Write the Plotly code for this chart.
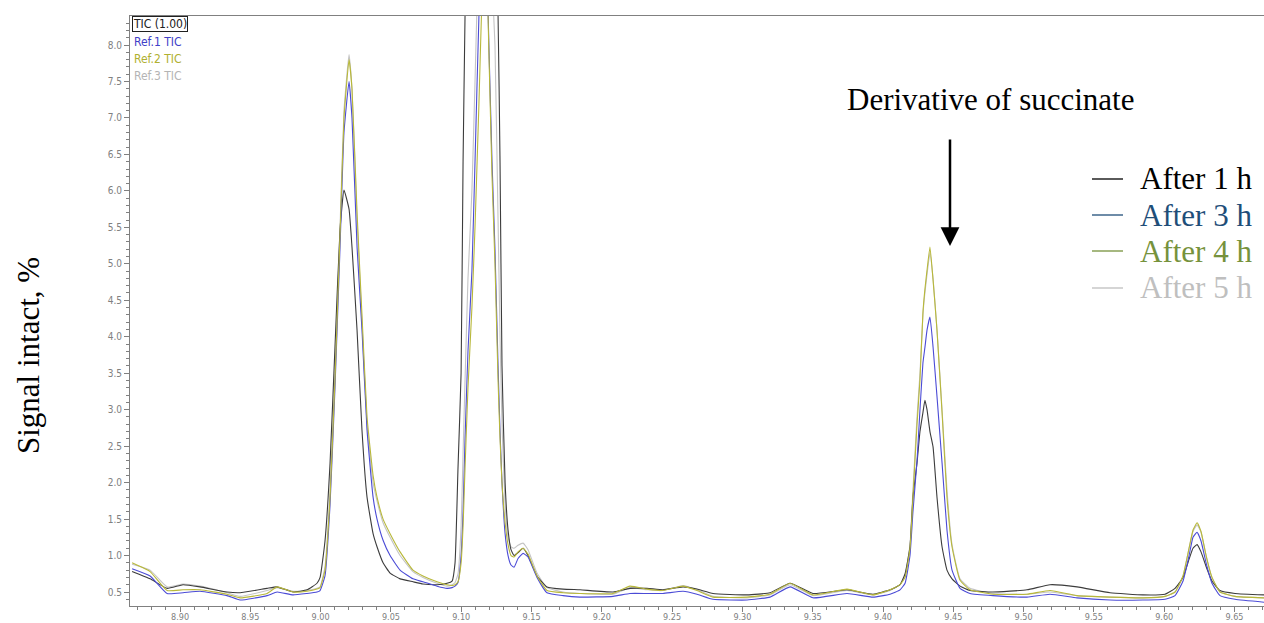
import plotly.graph_objects as go

# Retention time (min)
time_min = [8.8659, 8.8787, 8.8908, 8.9021, 8.9142, 8.9334, 8.9427, 8.9619, 8.9690, 8.9804,
            8.9903, 8.9974, 8.9996, 9.0031, 9.0067, 9.0102, 9.0138, 9.0166, 9.0202, 9.0223,
            9.0259, 9.0294, 9.0330, 9.0373, 9.0401, 9.0444, 9.0494, 9.0565, 9.0657, 9.0728,
            9.0828, 9.0899, 9.0935, 9.0956, 9.0977, 9.0999, 9.1013, 9.1027, 9.1048, 9.1076,
            9.1098, 9.1126, 9.1155, 9.1176, 9.1198, 9.1219, 9.1240, 9.1262, 9.1276, 9.1290,
            9.1312, 9.1333, 9.1354, 9.1376, 9.1404, 9.1440, 9.1475, 9.1539, 9.1610, 9.1724,
            9.1845, 9.2080, 9.2200, 9.2322, 9.2435, 9.2578, 9.2677, 9.2791, 9.3033, 9.3196,
            9.3339, 9.3502, 9.3744, 9.3929, 9.4050, 9.4121, 9.4157, 9.4192, 9.4213, 9.4242,
            9.4263, 9.4284, 9.4298, 9.4313, 9.4334, 9.4356, 9.4384, 9.4420, 9.4455, 9.4491,
            9.4548, 9.4619, 9.4782, 9.5024, 9.5188, 9.5380, 9.5615, 9.5849, 9.6006, 9.6077,
            9.6134, 9.6177, 9.6205, 9.6234, 9.6262, 9.6298, 9.6340, 9.6397, 9.6504, 9.6710]

# TIC, after 1 h
tic_1h = [0.78, 0.68, 0.55, 0.60, 0.57, 0.50, 0.49, 0.55, 0.57, 0.50,
          0.53, 0.62, 0.70, 1.20, 2.27, 3.86, 5.47, 6.01, 5.75, 5.23,
          4.09, 2.72, 1.80, 1.30, 1.12, 0.90, 0.76, 0.68, 0.64, 0.61,
          0.60, 0.62, 0.65, 0.90, 2.20, 3.50, 6.40, 8.40, 10.8, 12.8,
          13.8, 14.3, 14.4, 14.0, 13.0, 11.5, 9.80, 8.40, 6.40, 3.60,
          2.00, 1.35, 1.08, 1.00, 1.04, 1.10, 1.00, 0.72, 0.57, 0.54,
          0.53, 0.50, 0.55, 0.55, 0.53, 0.57, 0.54, 0.48, 0.46, 0.49,
          0.62, 0.48, 0.53, 0.47, 0.53, 0.60, 0.75, 1.12, 1.80, 2.27,
          2.70, 2.96, 3.13, 3.00, 2.70, 2.49, 1.80, 1.12, 0.80, 0.68,
          0.58, 0.52, 0.50, 0.53, 0.60, 0.57, 0.49, 0.46, 0.47, 0.55,
          0.70, 0.95, 1.10, 1.15, 1.05, 0.85, 0.65, 0.52, 0.48, 0.46]

# Ref.1 TIC, after 3 h
ref1_3h = [0.82, 0.72, 0.48, 0.49, 0.51, 0.45, 0.39, 0.45, 0.50, 0.46,
           0.48, 0.50, 0.52, 0.72, 1.70, 3.30, 5.23, 6.80, 7.50, 7.00,
           5.23, 4.10, 2.72, 1.80, 1.50, 1.21, 1.00, 0.80, 0.68, 0.64,
           0.58, 0.55, 0.56, 0.58, 0.63, 1.00, 1.60, 2.60, 3.80, 4.90,
           6.40, 8.40, 9.60, 9.40, 7.90, 6.40, 5.20, 3.60, 2.70, 2.00,
           1.30, 1.00, 0.87, 0.84, 0.96, 1.03, 0.98, 0.70, 0.49, 0.45,
           0.43, 0.44, 0.48, 0.48, 0.48, 0.51, 0.47, 0.40, 0.39, 0.43,
           0.57, 0.42, 0.48, 0.43, 0.47, 0.53, 0.62, 1.00, 1.60, 2.30,
           3.00, 3.64, 3.85, 4.09, 4.27, 3.86, 3.18, 2.27, 1.35, 0.80,
           0.55, 0.48, 0.45, 0.43, 0.47, 0.42, 0.39, 0.39, 0.40, 0.45,
           0.65, 1.00, 1.25, 1.32, 1.20, 0.90, 0.62, 0.45, 0.40, 0.36]

# Ref.2 TIC, after 4 h
ref2_4h = [0.90, 0.78, 0.52, 0.53, 0.53, 0.47, 0.42, 0.48, 0.57, 0.50,
           0.51, 0.54, 0.56, 0.80, 1.80, 3.40, 5.40, 7.00, 7.80, 7.40,
           5.70, 4.30, 2.90, 2.10, 1.80, 1.50, 1.30, 1.05, 0.80, 0.72,
           0.64, 0.60, 0.59, 0.60, 0.64, 0.90, 1.40, 2.20, 3.30, 4.40,
           5.50, 7.20, 9.00, 9.30, 7.80, 6.20, 5.00, 3.40, 2.60, 2.00,
           1.45, 1.15, 1.00, 0.98, 1.05, 1.10, 1.02, 0.72, 0.52, 0.49,
           0.48, 0.48, 0.58, 0.54, 0.52, 0.58, 0.52, 0.43, 0.43, 0.47,
           0.62, 0.46, 0.54, 0.46, 0.53, 0.60, 0.70, 1.10, 1.80, 2.80,
           3.41, 4.33, 4.65, 4.91, 5.23, 4.78, 4.09, 2.96, 1.80, 1.12,
           0.66, 0.53, 0.47, 0.47, 0.52, 0.45, 0.43, 0.42, 0.44, 0.50,
           0.72, 1.10, 1.35, 1.45, 1.33, 1.00, 0.70, 0.50, 0.44, 0.42]

# Ref.3 TIC, after 5 h
ref3_5h = [0.88, 0.80, 0.57, 0.61, 0.58, 0.49, 0.44, 0.52, 0.56, 0.51,
           0.52, 0.55, 0.57, 0.85, 1.90, 3.50, 5.50, 7.10, 7.87, 7.40,
           5.60, 4.20, 2.80, 2.00, 1.75, 1.45, 1.25, 1.00, 0.78, 0.70,
           0.62, 0.58, 0.60, 0.63, 0.75, 1.40, 2.40, 3.40, 4.80, 6.00,
           7.50, 9.50, 10.8, 10.6, 9.80, 8.90, 8.00, 5.60, 4.00, 2.80,
           1.70, 1.25, 1.12, 1.10, 1.14, 1.17, 1.08, 0.76, 0.56, 0.50,
           0.48, 0.47, 0.56, 0.53, 0.52, 0.59, 0.53, 0.44, 0.42, 0.46,
           0.60, 0.45, 0.52, 0.46, 0.52, 0.60, 0.72, 1.15, 1.90, 2.90,
           3.50, 4.30, 4.60, 4.85, 5.15, 4.80, 4.10, 3.00, 1.90, 1.15,
           0.68, 0.55, 0.48, 0.47, 0.50, 0.45, 0.43, 0.42, 0.44, 0.50,
           0.72, 1.10, 1.33, 1.42, 1.32, 1.00, 0.70, 0.50, 0.44, 0.42]

series_names = ["TIC (1.00)", "Ref.1 TIC", "Ref.2 TIC", "Ref.3 TIC"]
legend_labels = ["After 1 h", "After 3 h", "After 4 h", "After 5 h"]
y_tick_values = [0.5, 1.0, 1.5, 2.0, 2.5, 3.0, 3.5, 4.0, 4.5, 5.0, 5.5, 6.0, 6.5, 7.0, 7.5, 8.0]
x_tick_values = [8.90, 8.95, 9.00, 9.05, 9.10, 9.15, 9.20, 9.25, 9.30, 9.35, 9.40, 9.45, 9.50, 9.55, 9.60, 9.65]

W, H = 1264, 623
L, R, T, B = 130, 1264, 16, 606


def px(x):
    return (x - L) / (R - L)


def py(y):
    return (B - y) / (B - T)


trace_colors = ["#3c3c3c", "#4b4bd6", "#b8b83a", "#c4c4c4"]
legend_line_colors = ["#000000", "#1f4e79", "#76923c", "#bfbfbf"]
legend_text_colors = ["#000000", "#1f4e79", "#76923c", "#bfbfbf"]
label_colors = ["#202020", "#4040c8", "#b0b030", "#b4b4b4"]

fig = go.Figure()
all_series = [tic_1h, ref1_3h, ref2_4h, ref3_5h]
order = [3, 0, 1, 2]
for i in order:
    fig.add_trace(go.Scatter(
        x=time_min, y=all_series[i], mode="lines", name=series_names[i],
        line=dict(color=trace_colors[i], width=1.1, shape="spline", smoothing=0.4),
        showlegend=False,
    ))

narrow = "Liberation Sans Narrow, Arial Narrow, DejaVu Sans Condensed, Liberation Sans"
serif = "Liberation Serif, Times New Roman, serif"
tick_font = dict(family=narrow, size=10, color="#808080")

fig.update_layout(
    width=W, height=H,
    margin=dict(l=L, r=W - R, t=T, b=H - B, pad=0),
    paper_bgcolor="white", plot_bgcolor="white",
    showlegend=False,
    xaxis=dict(
        range=[8.8644, 9.671], showgrid=False, zeroline=False,
        showline=True, linecolor="#808080", linewidth=1, mirror=True,
        ticks="outside", ticklen=5, tickcolor="#808080", tickwidth=1,
        tickvals=x_tick_values, ticktext=[f"{v:.2f}" for v in x_tick_values],
        tickfont=dict(family=narrow, size=9, color="#808080"), automargin=False,
        ticklabelstandoff=-3,
        minor=dict(dtick=0.01, tick0=8.90, ticks="outside", ticklen=3, tickcolor="#808080"),
    ),
    yaxis=dict(
        range=[0.308, 8.398], showgrid=False, zeroline=False,
        showline=True, linecolor="#808080", linewidth=1,
        ticks="outside", ticklen=5, tickcolor="#808080", tickwidth=1,
        tickvals=y_tick_values, ticktext=[f"{v:.1f}" for v in y_tick_values],
        tickfont=tick_font, automargin=False,
        minor=dict(dtick=0.1, tick0=0.5, ticks="outside", ticklen=3, tickcolor="#808080"),
    ),
)

annotations = []
# Y axis title
annotations.append(dict(x=px(28), y=py(356), xref="paper", yref="paper",
                        text="Signal intact, %", showarrow=False, textangle=-90,
                        font=dict(family=serif, size=31, color="#000000"),
                        xanchor="center", yanchor="middle"))
# Annotation text
annotations.append(dict(x=px(990), y=py(100), xref="paper", yref="paper",
                        text="Derivative of succinate", showarrow=False,
                        font=dict(family=serif, size=31, color="#000000"),
                        xanchor="center", yanchor="middle"))
# Arrow
annotations.append(dict(x=px(950), y=py(246), xref="paper", yref="paper",
                        text="", showarrow=True, ax=0, ay=-108, axref="pixel", ayref="pixel",
                        arrowhead=2, arrowsize=1.5, arrowwidth=2.5, arrowcolor="#000000"))
# Custom legend
legend_rows = [179, 215, 251, 288]
for lbl, col, yy in zip(legend_labels, legend_text_colors, legend_rows):
    annotations.append(dict(x=px(1138), y=py(yy), xref="paper", yref="paper",
                            text=lbl, showarrow=False, xanchor="left", yanchor="middle",
                            font=dict(family=serif, size=31, color=col)))
# Top-left trace labels
label_rows = [24, 42, 59, 76]
for i, (name, col, yy) in enumerate(zip(series_names, label_colors, label_rows)):
    a = dict(x=px(132), y=py(yy), xref="paper", yref="paper", text=name,
             showarrow=False, xanchor="left", yanchor="middle",
             font=dict(family=narrow, size=12, color=col))
    if i == 0:
        a.update(bordercolor="#202020", borderwidth=1, borderpad=0)
    annotations.append(a)
fig.update_layout(annotations=annotations)

shapes = []
for col, yy in zip(legend_line_colors, legend_rows):
    shapes.append(dict(type="line", xref="paper", yref="paper",
                       x0=px(1092), x1=px(1123), y0=py(yy), y1=py(yy),
                       line=dict(color=col, width=1.3)))
fig.update_layout(shapes=shapes)

fig.write_html("out.html", config={"displayModeBar": False},
               post_script="document.body.style.margin='0';")
